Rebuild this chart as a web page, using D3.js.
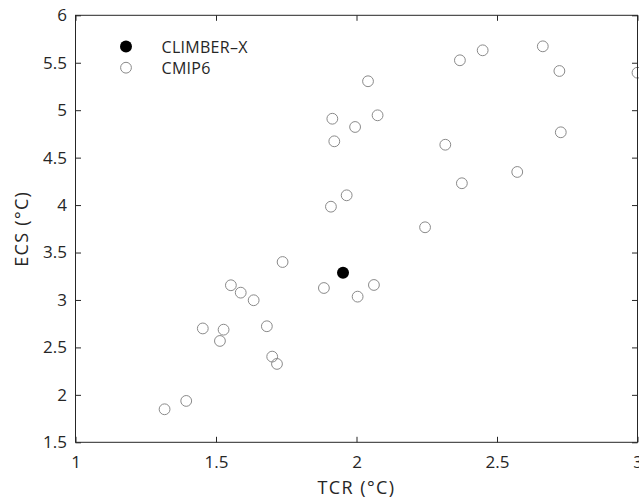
<!DOCTYPE html>
<html>
<head>
<meta charset="utf-8">
<script src="https://cdn.jsdelivr.net/npm/d3@7/dist/d3.min.js"></script>
<style>
  html, body { margin: 0; padding: 0; background: #fff; overflow: hidden; }
  svg { display: block; }
  text { font-family: "Open Sans", "DejaVu Sans", sans-serif; fill: #262626; }
</style>
</head>
<body>
<svg id="chart" width="639" height="499"></svg>
<script>
// Data
const climberTCR = [1.952];
const climberECS = [3.288];

const cmipTCR = [1.914, 2.041, 1.995, 2.075, 1.921, 2.368, 2.449, 2.663, 2.722, 3.0,
                 2.316, 2.727, 2.572, 2.375, 1.909, 1.965, 2.244, 1.737, 1.553, 1.588,
                 1.634, 1.453, 1.527, 1.514, 1.681, 1.700, 1.717, 1.317, 1.394, 1.884,
                 2.004, 2.062];
const cmipECS = [4.91, 5.305, 4.823, 4.946, 4.672, 5.526, 5.631, 5.673, 5.413, 5.395,
                 4.636, 4.767, 4.349, 4.23, 3.983, 4.103, 3.766, 3.40, 3.155, 3.077,
                 2.997, 2.70, 2.687, 2.568, 2.723, 2.403, 2.326, 1.848, 1.936, 3.126,
                 3.035, 3.158];

const xTicks = [1, 1.5, 2, 2.5, 3];
const yTicks = [1.5, 2, 2.5, 3, 3.5, 4, 4.5, 5, 5.5, 6];
const legendLabels = ["CLIMBER\u2013X", "CMIP6"];

(function () {
const svg = d3.select("#chart");
const mL = 75.5, mR = 637.5, mT = 15.3, mB = 442.3;

const x = d3.scaleLinear().domain([1, 3]).range([mL, mR]);
const y = d3.scaleLinear().domain([1.5, 6]).range([mB, mT]);

const axisColor = "#262626";
const tickLen = 5.5;

// Points
const cmip = cmipTCR.map((v, i) => ({ x: v, y: cmipECS[i] }));
svg.append("g").selectAll("circle").data(cmip).join("circle")
  .attr("cx", d => x(d.x)).attr("cy", d => y(d.y)).attr("r", 5.4)
  .attr("fill", "none").attr("stroke", "#8a8a8a").attr("stroke-width", 1);

const climber = climberTCR.map((v, i) => ({ x: v, y: climberECS[i] }));
svg.append("g").selectAll("circle").data(climber).join("circle")
  .attr("cx", d => x(d.x)).attr("cy", d => y(d.y)).attr("r", 6)
  .attr("fill", "#000");

// Axes
function styleAxis(g) {
  g.select(".domain").remove();
  g.selectAll(".tick line").attr("stroke", axisColor).attr("stroke-width", 1);
  g.selectAll(".tick text").attr("fill", axisColor).style("font-size", "17px")
    .style("font-family", "'Open Sans', 'DejaVu Sans', sans-serif");
}
const fmt = d => String(d);

svg.append("g").attr("transform", `translate(0,${mB})`)
  .call(d3.axisBottom(x).tickValues(xTicks).tickFormat(fmt).tickSizeInner(-tickLen).tickSizeOuter(0).tickPadding(14))
  .call(styleAxis);
svg.append("g").attr("transform", `translate(0,${mT})`)
  .call(d3.axisTop(x).tickValues(xTicks).tickFormat("").tickSizeInner(-tickLen).tickSizeOuter(0))
  .call(styleAxis);
svg.append("g").attr("transform", `translate(${mL},0)`)
  .call(d3.axisLeft(y).tickValues(yTicks).tickFormat(fmt).tickSizeInner(-tickLen).tickSizeOuter(0).tickPadding(8.5))
  .call(styleAxis);
svg.append("g").attr("transform", `translate(${mR},0)`)
  .call(d3.axisRight(y).tickValues(yTicks).tickFormat("").tickSizeInner(-tickLen).tickSizeOuter(0))
  .call(styleAxis);

// Box
svg.append("rect").attr("x", mL).attr("y", mT)
  .attr("width", mR - mL).attr("height", mB - mT)
  .attr("fill", "none").attr("stroke", axisColor).attr("stroke-width", 1);

// Axis labels
svg.append("text").attr("x", (mL + mR) / 2).attr("y", 494)
  .attr("text-anchor", "middle").style("font-size", "18px").style("letter-spacing", "1.4px")
  .text("TCR (\u00B0C)");
svg.append("text").attr("transform", `translate(27.5,${(mT + mB) / 2}) rotate(-90)`)
  .attr("text-anchor", "middle").style("font-size", "18px").style("letter-spacing", "1.3px")
  .text("ECS (\u00B0C)");

// Legend
const lg = svg.append("g");
lg.append("circle").attr("cx", 126).attr("cy", 46.5).attr("r", 6).attr("fill", "#000");
lg.append("circle").attr("cx", 126).attr("cy", 67.7).attr("r", 5.4)
  .attr("fill", "none").attr("stroke", "#8a8a8a").attr("stroke-width", 1);
lg.selectAll("text.leg").data(legendLabels).join("text").attr("class", "leg")
  .attr("x", 161.5).attr("y", (d, i) => 53 + i * 21)
  .style("font-size", "16px").style("letter-spacing", "0.3px").text(d => d);
})();
</script>
</body>
</html>
